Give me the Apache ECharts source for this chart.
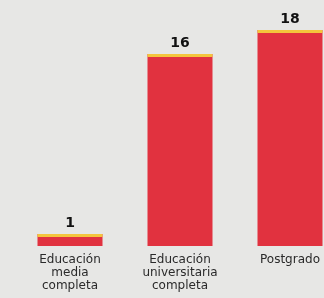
<!DOCTYPE html>
<html>
<head>
<meta charset="utf-8">
<script src="https://cdn.jsdelivr.net/npm/echarts@6/dist/echarts.min.js"></script>
<style>
    html, body { margin: 0; padding: 0; background: #e7e7e5; overflow: hidden; }
    /* the last bar runs past the right edge in the original, so the chart is wider than the window */
    #chart { width: 345px; height: 298px; }
</style>
</head>
<body>
<div id="chart"></div>
<script>
let categories = ['Educación\nmedia\ncompleta', 'Educación\nuniversitaria\ncompleta', 'Postgrado'];
let values = [1, 16, 18];

let chart = echarts.init(document.getElementById('chart'));

let option = {
    backgroundColor: '#e7e7e5',
    animation: false,
    grid: { left: 15, right: 0, top: 30, bottom: 52 },
    xAxis: {
        type: 'category',
        data: categories,
        axisLine: { show: false },
        axisTick: { show: false },
        axisLabel: {
            margin: 7,
            color: '#2a2a2a',
            fontSize: 12,
            lineHeight: 13,
            fontFamily: 'DejaVu Sans'
        }
    },
    yAxis: {
        type: 'value',
        min: 0,
        max: 18,
        show: false,
        splitLine: { show: false }
    },
    series: [
        {
            type: 'bar',
            data: values,
            barWidth: 65,
            itemStyle: { color: '#e1323f' },
            label: {
                show: true,
                position: 'top',
                distance: 4,
                color: '#111',
                fontSize: 14,
                fontWeight: 'bold',
                fontFamily: 'DejaVu Sans'
            }
        },
        {
            // yellow edge on top of each bar
            type: 'pictorialBar',
            data: values,
            symbol: 'rect',
            symbolSize: [65, 3],
            symbolPosition: 'end',
            symbolOffset: [0, 0],
            barGap: '-100%',
            itemStyle: { color: '#f4c53c' },
            z: 3
        }
    ]
};

chart.setOption(option);
</script>
</body>
</html>
